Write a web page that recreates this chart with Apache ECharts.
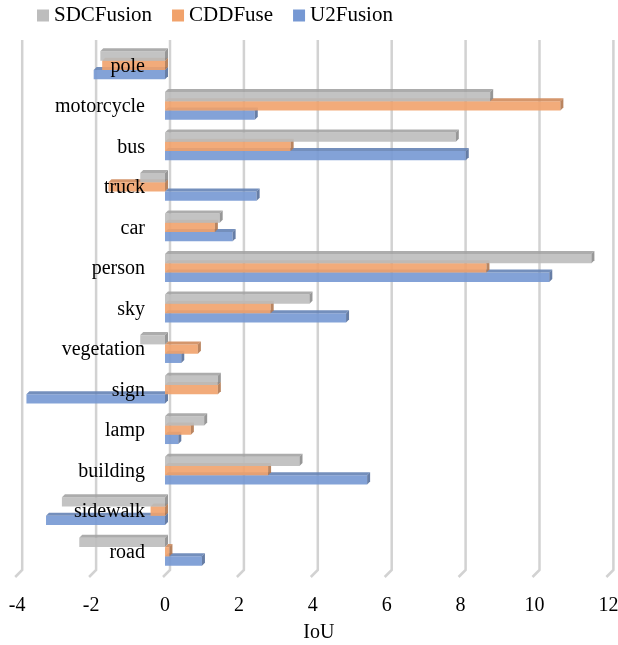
<!DOCTYPE html>
<html>
<head>
<meta charset="utf-8">
<script src="https://cdn.jsdelivr.net/npm/echarts@6/dist/echarts.min.js"></script>
<style>
  html, body { margin: 0; padding: 0; background: #fff; }
  #chart { width: 618px; height: 645px; }
</style>
</head>
<body>
<div id="chart"></div>
<script>
// Per-class IoU change for three fusion methods
const categories = ['pole', 'motorcycle', 'bus', 'truck', 'car', 'person', 'sky',
  'vegetation', 'sign', 'lamp', 'building', 'sidewalk', 'road'];
const sdcFusion = [-1.75, 8.8, 7.87, -0.67, 1.48, 11.54, 3.91, -0.67, 1.43, 1.06, 3.64, -2.79, -2.32];
const cddFuse   = [-1.7, 10.7, 3.4, -1.53, 1.35, 8.7, 2.86, 0.89, 1.43, 0.7, 2.79, -0.39, 0.12];
const u2Fusion  = [-1.93, 2.43, 8.14, 2.48, 1.83, 10.4, 4.9, 0.44, -3.75, 0.36, 5.47, -3.22, 1.0];
const xTicks = [-4, -2, 0, 2, 4, 6, 8, 10, 12];

const X_MIN = -4, X_MAX = 12;
const GRID_LEFT = 17.2, GRID_W = 591.2;
const FONT = '"Liberation Serif", "Times New Roman", serif';

function shade(hex, k) {
  const n = parseInt(hex.slice(1), 16);
  const r = Math.round(((n >> 16) & 255) * k);
  const g = Math.round(((n >> 8) & 255) * k);
  const b = Math.round((n & 255) * k);
  return 'rgb(' + r + ',' + g + ',' + b + ')';
}

// 3D-looking horizontal bar: front face, top face and right-hand side face
function bar3d(slot, color) {
  const top3d = shade(color, 0.86);
  const side3d = shade(color, 0.74);
  return function (params, api) {
    const v = api.value(0);
    const c = api.value(1);
    const p0 = api.coord([0, c]);
    const p1 = api.coord([v, c]);
    const band = api.size([0, 1])[1];
    const h = band * 0.229;
    const cy = p0[1] + (slot - 1) * h - 1;
    const y0 = cy - h / 2;
    const xL = Math.min(p0[0], p1[0]);
    const xR = Math.max(p0[0], p1[0]);
    const dx = 3, dy = 3;
    const op = 0.9;
    return {
      type: 'group',
      children: [
        { type: 'rect', shape: { x: xL, y: y0, width: xR - xL, height: h },
          style: { fill: color, opacity: op } },
        { type: 'polygon', shape: { points: [[xL, y0], [xR, y0], [xR + dx, y0 - dy], [xL + dx, y0 - dy]] },
          style: { fill: top3d, opacity: op } },
        { type: 'polygon', shape: { points: [[xR, y0], [xR + dx, y0 - dy], [xR + dx, y0 + h - dy], [xR, y0 + h]] },
          style: { fill: side3d, opacity: op } }
      ]
    };
  };
}

// Back-wall gridlines with a short slant onto the floor
function wallLine(params, api) {
  const x = api.coord([api.value(0), 0])[0];
  const cs = params.coordSys;
  const yTop = cs.y - 6;
  const yBack = cs.y + cs.height - 3;
  const yFront = cs.y + cs.height + 4;
  return {
    type: 'polyline',
    shape: { points: [[x + 5, yTop], [x + 5, yBack], [x - 2, yFront]] },
    style: { stroke: '#d2d2d2', lineWidth: 2.5, fill: null }
  };
}

const colors = { sdc: '#bdbdbd', cdd: '#f1a26b', u2: '#7698d3' };

const chart = echarts.init(document.getElementById('chart'), null, { renderer: 'canvas' });
chart.setOption({
  animation: false,
  backgroundColor: '#ffffff',
  legend: {
    data: ['SDCFusion', 'CDDFuse', 'U2Fusion'],
    left: 32, top: 0,
    icon: 'rect', itemWidth: 12, itemHeight: 12, itemGap: 20,
    textStyle: { fontFamily: FONT, fontSize: 21, color: '#000' }
  },
  grid: { left: GRID_LEFT, top: 46, width: GRID_W, height: 527, containLabel: false, outerBoundsMode: 'none' },
  xAxis: {
    type: 'value', min: X_MIN, max: X_MAX, interval: 2,
    name: 'IoU', nameLocation: 'middle', nameGap: 50,
    nameTextStyle: { fontFamily: FONT, fontSize: 20, color: '#000', padding: [0, 0, 0, 12] },
    axisLine: { show: false }, axisTick: { show: false },
    splitLine: { show: false },
    axisLabel: { fontFamily: FONT, fontSize: 20, color: '#000', margin: 23 }
  },
  yAxis: {
    type: 'category', data: categories, inverse: true,
    z: 10,
    // category labels sit just left of the zero line, over the bars
    offset: -GRID_W * (0 - X_MIN) / (X_MAX - X_MIN),
    axisLine: { show: false },
    axisTick: { show: false },
    splitLine: { show: false },
    axisLabel: { fontFamily: FONT, fontSize: 20, color: '#000', margin: 20, padding: [4, 0, 0, 0] }
  },
  series: [
    { type: 'custom', name: 'walls', silent: true, z: 1,
      data: xTicks.map(v => [v, 0]), encode: { x: 0, y: 1 }, renderItem: wallLine },
    { type: 'custom', name: 'U2Fusion', z: 3, itemStyle: { color: colors.u2 },
      data: u2Fusion.map((v, i) => [v, i]), encode: { x: 0, y: 1 }, renderItem: bar3d(2, colors.u2) },
    { type: 'custom', name: 'CDDFuse', z: 4, itemStyle: { color: colors.cdd },
      data: cddFuse.map((v, i) => [v, i]), encode: { x: 0, y: 1 }, renderItem: bar3d(1, colors.cdd) },
    { type: 'custom', name: 'SDCFusion', z: 5, itemStyle: { color: colors.sdc },
      data: sdcFusion.map((v, i) => [v, i]), encode: { x: 0, y: 1 }, renderItem: bar3d(0, colors.sdc) }
  ]
});
</script>
</body>
</html>
